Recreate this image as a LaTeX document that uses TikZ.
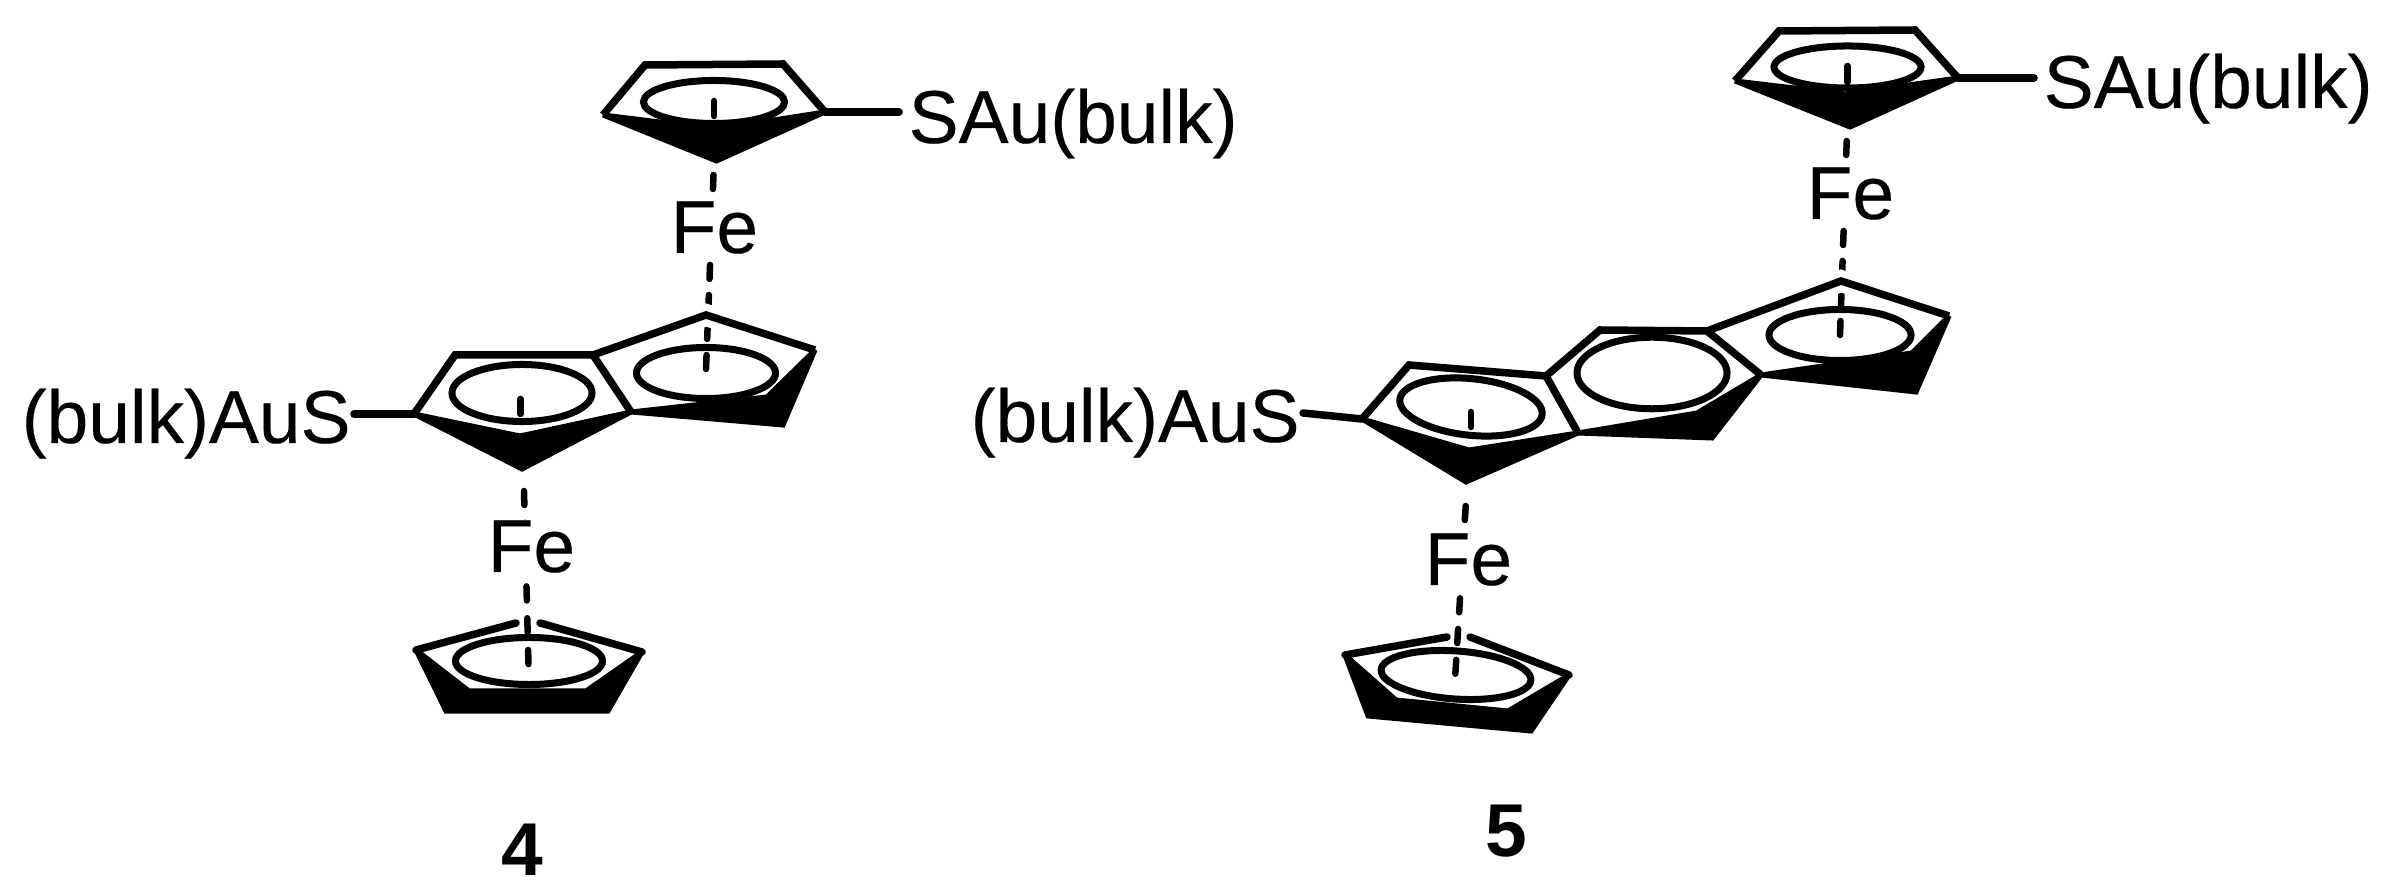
\documentclass[tikz,border=0pt]{standalone}
\usepackage{fontspec}
\setmainfont{Liberation Sans}
\newfontfamily\atomfont[FakeBold=0.25]{Liberation Sans}
\usetikzlibrary{calc, shapes.geometric}

\begin{document}
\begin{tikzpicture}[
    x=0.01cm,
    y=-0.01cm,
    bond/.style={line width=0.075cm, line join=miter},
    stub/.style={line width=0.075cm, line cap=round},
    wedge/.style={fill=black, draw=black, line width=0.05cm, line join=miter, miter limit=1.5},
    halo/.style={draw=white, line width=0.22cm},
    cpring/.style={ellipse, draw, fill=white, line width=0.07cm, inner sep=0pt},
    febond/.style={line width=0.065cm, line cap=round},
    atom/.style={inner sep=0pt, anchor=base west, font=\atomfont\fontsize{21.3}{25}\selectfont},
    featom/.style={atom, fill=white},
    compound/.style={inner sep=0pt, font=\fontsize{21.3}{25}\selectfont\bfseries},
]

    \useasboundingbox (0,0) rectangle (2386,895);

    % compound 4, ring corners
    \coordinate (aa) at (603,115);
    \coordinate (ab) at (645,65);
    \coordinate (ac) at (783,64);
    \coordinate (ad) at (825,112);
    \coordinate (ae) at (716.5,161);
    \coordinate (an) at (716,129);
    \coordinate (ba) at (706,315);
    \coordinate (bb) at (815,350);
    \coordinate (bc) at (783,425);
    \coordinate (bd) at (631,412);
    \coordinate (be) at (593,355);
    \coordinate (bn) at (767,397);
    \coordinate (ca) at (455,355);
    \coordinate (cb) at (414,414);
    \coordinate (cc) at (522,469);
    \coordinate (cn) at (520,436);
    \coordinate (ha) at (416,650);
    \coordinate (hb) at (446,711);
    \coordinate (hc) at (608,711);
    \coordinate (hd) at (642,652);
    \coordinate (hl) at (469,691);
    \coordinate (hr) at (586,691);
    \coordinate (hs) at (516,623);
    \coordinate (ht) at (540,623);

    % compound 5, ring corners
    \coordinate (da) at (1735,81);
    \coordinate (db) at (1779,31);
    \coordinate (dc) at (1915,30);
    \coordinate (dd) at (1958,78);
    \coordinate (de) at (1850,127);
    \coordinate (dn) at (1845,94);
    \coordinate (ea) at (1841,281);
    \coordinate (eb) at (1949,316);
    \coordinate (ec) at (1916,392);
    \coordinate (ed) at (1761,375);
    \coordinate (ee) at (1707,331);
    \coordinate (en) at (1912,353);
    \coordinate (fa) at (1600,330);
    \coordinate (fb) at (1546,376);
    \coordinate (fc) at (1578,433);
    \coordinate (fd) at (1712,438);
    \coordinate (fn) at (1697,413);
    \coordinate (ga) at (1409,365);
    \coordinate (gb) at (1362,419);
    \coordinate (gc) at (1466,482);
    \coordinate (gn) at (1469,450);
    \coordinate (ia) at (1345,655);
    \coordinate (ib) at (1368,716);
    \coordinate (ic) at (1531,731);
    \coordinate (id) at (1569,675);
    \coordinate (il) at (1396,700);
    \coordinate (ir) at (1508,711);
    \coordinate (is) at (1447,637);
    \coordinate (it) at (1470,637);

    % dark front edges
    \draw[wedge] (aa) -- (ae) -- (ad) -- (an) -- cycle;
    \draw[wedge] (bd) -- (bc) -- (bb) -- (bn) -- cycle;
    \draw[wedge] (cb) -- (cc) -- (bd) -- (cn) -- cycle;
    \draw[wedge] (ha) -- (hb) -- (hc) -- (hd) -- (hr) -- (hl) -- cycle;
    \draw[wedge] (da) -- (de) -- (dd) -- (dn) -- cycle;
    \draw[wedge] (ed) -- (ec) -- (eb) -- (en) -- cycle;
    \draw[wedge] (fc) -- (fd) -- (ed) -- (fn) -- cycle;
    \draw[wedge] (gb) -- (gc) -- (fc) -- (gn) -- cycle;
    \draw[wedge] (ia) -- (ib) -- (ic) -- (id) -- (ir) -- (il) -- cycle;

    % ring centres
    \node[cpring, minimum width=1.41cm, minimum height=0.43cm] (ringa) at (714,102) {};
    \node[cpring, minimum width=1.39cm, minimum height=0.51cm] (ringb) at (706,373) {};
    \node[cpring, minimum width=1.40cm, minimum height=0.57cm] (ringc) at (522,393) {};
    \node[cpring, minimum width=1.47cm, minimum height=0.47cm] (ringh) at (529,661) {};
    \node[cpring, minimum width=1.47cm, minimum height=0.42cm] (ringd) at (1847.5,67) {};
    \node[cpring, minimum width=1.42cm, minimum height=0.51cm] (ringe) at (1840,335) {};
    \node[cpring, minimum width=1.50cm, minimum height=0.715cm] (ringf) at (1652,373) {};
    \node[cpring, minimum width=1.43cm, minimum height=0.565cm, rotate=-6] (ringg) at (1471,407) {};
    \node[cpring, minimum width=1.50cm, minimum height=0.48cm, rotate=-4] (ringi) at (1456,675) {};

    % ring to iron
    \coordinate (pa) at (714,101);
    \coordinate (pb) at (714,116);
    \coordinate (pc) at (713.5,175);
    \coordinate (pd) at (706,369);
    \coordinate (qa) at (520.5,399);
    \coordinate (qb) at (520.5,414);
    \coordinate (qc) at (524,491);
    \coordinate (qd) at (528.5,665);
    \coordinate (ra) at (1847.5,66);
    \coordinate (rb) at (1847.5,82);
    \coordinate (rc) at (1846.7,141);
    \coordinate (rd) at (1840,335);
    \coordinate (sa) at (1471,412);
    \coordinate (sb) at (1471,427);
    \coordinate (sc) at (1465.7,506);
    \coordinate (sd) at (1455,679);
    \draw[febond] (pa) -- (pb);
    \draw[febond] (qa) -- (qb);
    \draw[febond] (ra) -- (rb);
    \draw[febond] (sa) -- (sb);
    \draw[febond, dash pattern=on 0.14cm off 0.16cm] (pc) -- (pd);
    \draw[febond, dash pattern=on 0.14cm off 0.178cm] (qc) -- (qd);
    \draw[febond, dash pattern=on 0.14cm off 0.16cm] (rc) -- (rd);
    \draw[febond, dash pattern=on 0.14cm off 0.168cm] (sc) -- (sd);

    % gaps where the axis passes behind the ring
    \draw[halo] ($(ba)!0.3!(be)$) -- (ba) -- ($(ba)!0.3!(bb)$);
    \draw[halo] ($(ea)!0.3!(ee)$) -- (ea) -- ($(ea)!0.3!(eb)$);

    % ring outlines
    \draw[bond] (aa) -- (ab) -- (ac) -- (ad);
    \draw[bond] (cb) -- (ca) -- (be) -- (ba) -- (bb);
    \draw[bond] (be) -- (bd);
    \draw[stub] (ha) -- (hs);
    \draw[stub] (hd) -- (ht);
    \draw[bond] (da) -- (db) -- (dc) -- (dd);
    \draw[bond] (gb) -- (ga) -- (fb) -- (fa) -- (ee) -- (ea) -- (eb);
    \draw[bond] (fb) -- (fc);
    \draw[bond] (ee) -- (ed);
    \draw[stub] (ia) -- (is);
    \draw[stub] (id) -- (it);

    % labels
    \node[atom] (sauA) at (908,143) {SAu(bulk)};
    \node[atom] (ausA) at (21,443) {(bulk)AuS};
    \node[atom] (sauB) at (2043,108) {SAu(bulk)};
    \node[atom] (ausB) at (970,442) {(bulk)AuS};
    \node[featom] (feA) at (670,253) {Fe};
    \node[featom] (feB) at (487,572) {Fe};
    \node[featom] (feC) at (1806,219) {Fe};
    \node[featom] (feD) at (1424,585) {Fe};
    \node[compound] (four) at (522.5,850) {4};
    \node[compound] (five) at (1506,831.5) {5};

    % sulfur links
    \coordinate (ka) at (899,112);
    \coordinate (kb) at (354,414);
    \coordinate (kc) at (2034,78);
    \coordinate (kd) at (1303,413);
    \draw[stub] (ad) -- (ka);
    \draw[stub] (cb) -- (kb);
    \draw[stub] (dd) -- (kc);
    \draw[stub] (gb) -- (kd);
\end{tikzpicture}
\end{document}
